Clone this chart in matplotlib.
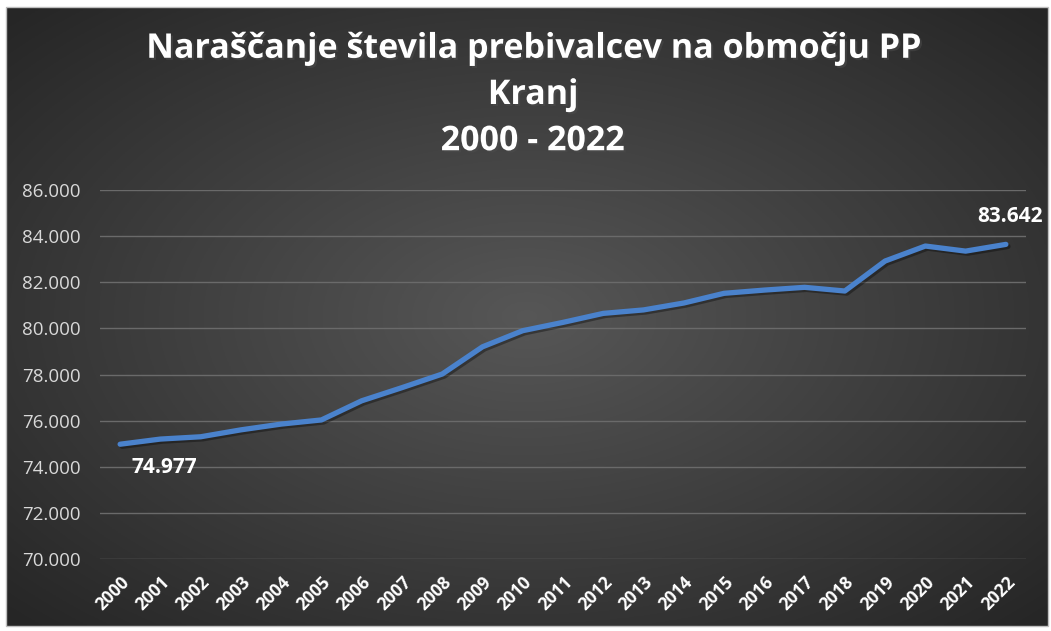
"""
Naraščanje števila prebivalcev na območju PP Kranj 2000 - 2022
"""
import numpy as np
import matplotlib
matplotlib.use('Agg')
import matplotlib.pyplot as plt
from matplotlib.patches import Rectangle
from matplotlib.ticker import FuncFormatter
import matplotlib.patheffects as pe

# データ
years = [str(y) for y in range(2000, 2023)]
population = [74977, 75200, 75300, 75600, 75850, 76030, 76860, 77430, 78020,
              79200, 79900, 80260, 80650, 80800, 81100, 81520, 81660, 81780,
              81620, 82920, 83570, 83350, 83642]
y_ticks = [70000, 72000, 74000, 76000, 78000, 80000, 82000, 84000, 86000]
title_text = 'Naraščanje števila prebivalcev na območju PP\nKranj\n2000 - 2022'

W, H = 1051, 631
fig = plt.figure(figsize=(W / 100, H / 100), dpi=100)
fig.patch.set_facecolor('white')

# 背景（放射状グラデーション）
bg = fig.add_axes([6 / W, 1 - 626 / H, 1042 / W, 619 / H])
yy, xx = np.mgrid[-1:1:300j, -1:1:500j]
r = np.sqrt((xx * 0.9) ** 2 + (yy * 0.9) ** 2)
grad = np.clip(1 - r / 1.25, 0, 1)
lo, hi = 0.15, 0.34
img = lo + (hi - lo) * grad
bg.imshow(np.dstack([img, img, img]), aspect='auto', extent=[0, 1, 0, 1])
bg.set_xlim(0, 1)
bg.set_ylim(0, 1)
bg.axis('off')
bg.add_patch(Rectangle((0, 0), 1, 1, transform=bg.transAxes, fill=False,
                       edgecolor='#bfbfbf', linewidth=1.0, clip_on=False))

ax = fig.add_axes([100 / W, 1 - 559 / H, 926 / W, 369 / H])
ax.set_facecolor('none')
x = np.arange(len(years))
ax.plot(x, population, color='#4a82cc', linewidth=3.8, solid_joinstyle='round',
        solid_capstyle='round', zorder=3,
        path_effects=[pe.SimpleLineShadow(offset=(1.5, -1.5), alpha=0.35),
                      pe.Normal()])

ax.set_xlim(-0.5, len(years) - 0.5)
ax.set_ylim(70000, 86000)
ax.set_yticks(y_ticks)
ax.yaxis.set_major_formatter(FuncFormatter(lambda v, p: f'{v:,.0f}'.replace(',', '.')))
ax.set_xticks(x)
ax.set_xticklabels(years, rotation=45, ha='right', rotation_mode='anchor',
                   fontsize=12.5, fontweight='bold', color='white',
                   family='Open Sans')
for lab in ax.get_yticklabels():
    lab.set_color('#d9d9d9')
    lab.set_fontsize(13.5)
    lab.set_family('Open Sans')
ax.tick_params(axis='both', length=0)
ax.tick_params(axis='y', pad=14)
ax.tick_params(axis='x', pad=10)
ax.grid(axis='y', color='#6a6a6a', linewidth=1.0)
ax.set_axisbelow(True)
for s in ax.spines.values():
    s.set_visible(False)

# 端点ラベル
fmt = lambda v: f'{v:,.0f}'.replace(',', '.')
ax.annotate(fmt(population[0]), (x[0], population[0]), xytext=(32, -17),
            textcoords='offset points', ha='center', va='center',
            color='white', fontsize=15, fontweight='bold', family='Open Sans')
ax.annotate(fmt(population[-1]), (x[-1], population[-1]), xytext=(3, 20),
            textcoords='offset points', ha='center', va='center',
            color='white', fontsize=15, fontweight='bold', family='Open Sans')

fig.text(533 / W, 1 - 95 / H, title_text, ha='center', va='center',
         fontsize=24.5, fontweight='bold', color='white', family='Open Sans',
         linespacing=1.47,
         path_effects=[pe.withSimplePatchShadow(offset=(1.5, -1.5), alpha=0.5)])

fig.savefig('out.png', dpi=100)
